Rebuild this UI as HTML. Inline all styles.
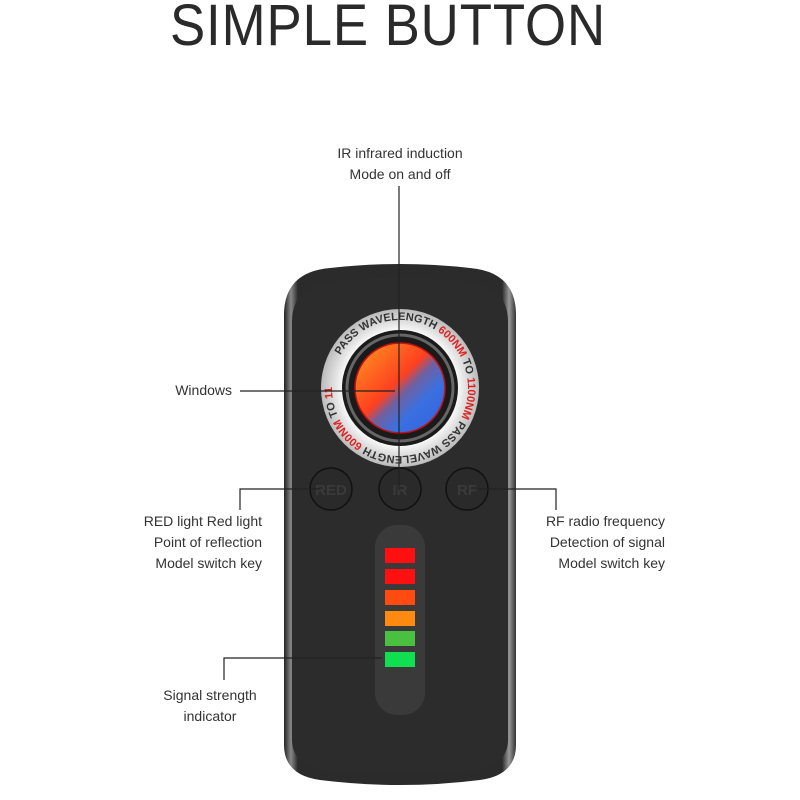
<!DOCTYPE html>
<html><head><style>
body{margin:0;width:800px;height:800px;background:#fff;overflow:hidden;position:relative;font-family:"Liberation Sans",sans-serif}
.t{position:absolute;font-size:14px;color:#333;line-height:21px}
</style></head><body>
<div style="position:absolute;left:0;width:776px;top:-8px;text-align:center;font-size:58px;color:#2a2a2a;letter-spacing:1px;transform:scaleX(0.91);transform-origin:388px 0">SIMPLE BUTTON</div>
<svg width="800" height="800" style="position:absolute;left:0;top:0">
<defs>
<linearGradient id="edge" x1="0" x2="1"><stop offset="0" stop-color="#222"/><stop offset=".03" stop-color="#888"/><stop offset=".06" stop-color="#2b2b2b"/><stop offset=".94" stop-color="#2b2b2b"/><stop offset=".97" stop-color="#999"/><stop offset="1" stop-color="#333"/></linearGradient>
<linearGradient id="win" x1="0" y1="0" x2="1" y2="1"><stop offset="0" stop-color="#ff9a20"/><stop offset=".45" stop-color="#ff4020"/><stop offset=".55" stop-color="#7060a0"/><stop offset=".7" stop-color="#3a70e0"/><stop offset="1" stop-color="#3060e0"/></linearGradient>
<radialGradient id="ring"><stop offset=".7" stop-color="#fff"/><stop offset="1" stop-color="#bbb"/></radialGradient>
<path id="arc" d="M400,388 m-68,0 a68,68 0 1,1 136,0 a68,68 0 1,1 -136,0"/>
</defs>
<path d="M284,315 Q284,272 330,268 Q400,260 470,268 Q516,272 516,315 L516,745 Q516,775 480,780 Q400,790 320,780 Q284,775 284,745 Z" fill="url(#edge)"/>
<path d="M292,322 Q292,285 335,281 Q400,274 465,281 Q508,285 508,322 L508,740 Q508,765 475,770 Q400,778 325,770 Q292,765 292,740 Z" fill="#2c2c2c"/>
<circle cx="400" cy="388" r="79" fill="url(#ring)"/>
<text font-size="11" font-weight="bold" fill="#333"><textPath href="#arc" startOffset="8%">PASS WAVELENGTH <tspan fill="#e02020">600NM</tspan> TO <tspan fill="#e02020">1100NM</tspan> PASS WAVELENGTH <tspan fill="#e02020">600NM</tspan> TO <tspan fill="#e02020">1100NM</tspan></textPath></text>
<circle cx="400" cy="388" r="58" fill="#1a1a1a"/>
<circle cx="400" cy="388" r="53" fill="none" stroke="#666" stroke-width="3"/>
<circle cx="400" cy="388" r="45" fill="url(#win)" stroke="#c01010" stroke-width="1.5"/>
<g fill="#2a2a2a" stroke="#111" stroke-width="1.5">
<circle cx="331" cy="489" r="21"/><circle cx="400" cy="489" r="21"/><circle cx="467" cy="489" r="21"/></g>
<g font-size="15" font-weight="bold" fill="#3a3a3a" text-anchor="middle"><text x="331" y="495">RED</text><text x="400" y="495">IR</text><text x="467" y="495">RF</text></g>
<rect x="375" y="525" width="50" height="190" rx="22" fill="#3a3a3a"/>
<g><rect x="385" y="548" width="30" height="15" fill="#ff1010"/><rect x="385" y="569" width="30" height="15" fill="#ff1010"/><rect x="385" y="590" width="30" height="15" fill="#ff4a10"/><rect x="385" y="611" width="30" height="15" fill="#ff8a10"/><rect x="385" y="631" width="30" height="15" fill="#4ac040"/><rect x="385" y="652" width="30" height="15" fill="#10e050"/></g>
<g stroke="#222" stroke-width="1.2" fill="none">
<path d="M399,186 V490"/><path d="M240,391 H395"/>
<path d="M240,510 V489 H320"/><path d="M556,510 V489 H478"/>
<path d="M224,680 V658 H382"/>
</g>
</svg>
<div class="t" style="left:300px;width:200px;top:143px;text-align:center">IR infrared induction<br>Mode on and off</div>
<div class="t" style="left:150px;width:82px;top:380px;text-align:right">Windows</div>
<div class="t" style="left:100px;width:162px;top:511px;text-align:right">RED light Red light<br>Point of reflection<br>Model switch key</div>
<div class="t" style="left:540px;width:125px;top:511px;text-align:right">RF radio frequency<br>Detection of signal<br>Model switch key</div>
<div class="t" style="left:130px;width:160px;top:685px;text-align:center">Signal strength<br>indicator</div>
</body></html>
